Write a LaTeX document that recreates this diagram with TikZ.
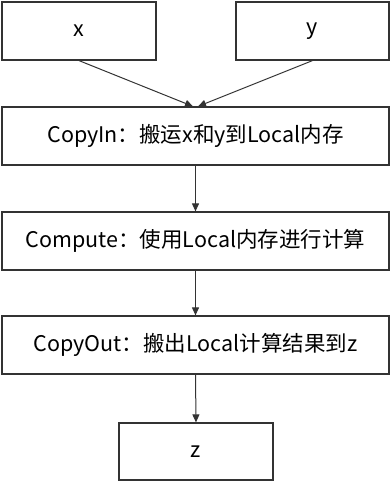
\documentclass[tikz,border=0pt]{standalone}
\usepackage{fontspec}
\setmainfont{Noto Sans CJK SC}
\usetikzlibrary{arrows.meta}
\begin{document}
\begin{tikzpicture}[x=1pt,y=-1pt,
  box/.style={draw=black!80,line width=1.2pt,fill=white,inner sep=0pt,font=\fontsize{21.5}{24}\selectfont},
  conn/.style={draw=black!80,line width=1pt,-{Triangle[width=7pt,length=8pt]}}]
\useasboundingbox (0,0) rectangle (391,482);
\node[box,minimum width=154pt,minimum height=58pt] (x) at (79,31) {x};
\node[box,minimum width=153pt,minimum height=58pt] (y) at (312.5,31) {y};
\node[box,minimum width=387pt,minimum height=58pt] (cin) at (195.5,136) {CopyIn：搬运x和y到Local内存};
\node[box,minimum width=387pt,minimum height=58pt] (comp) at (195.5,241) {Compute：使用Local内存进行计算};
\node[box,minimum width=387pt,minimum height=58pt] (cout) at (195.5,345) {CopyOut：搬出Local计算结果到z};
\node[box,minimum width=154pt,minimum height=57pt] (z) at (196,451.5) {z};
\draw[conn] (x.south) -- ([xshift=-2.5pt]cin.north);
\draw[conn] (y.south) -- ([xshift=2.5pt]cin.north);
\draw[conn] (cin.south) -- (comp.north);
\draw[conn] (comp.south) -- (cout.north);
\draw[conn] (cout.south) -- (z.north);
\end{tikzpicture}
\end{document}
